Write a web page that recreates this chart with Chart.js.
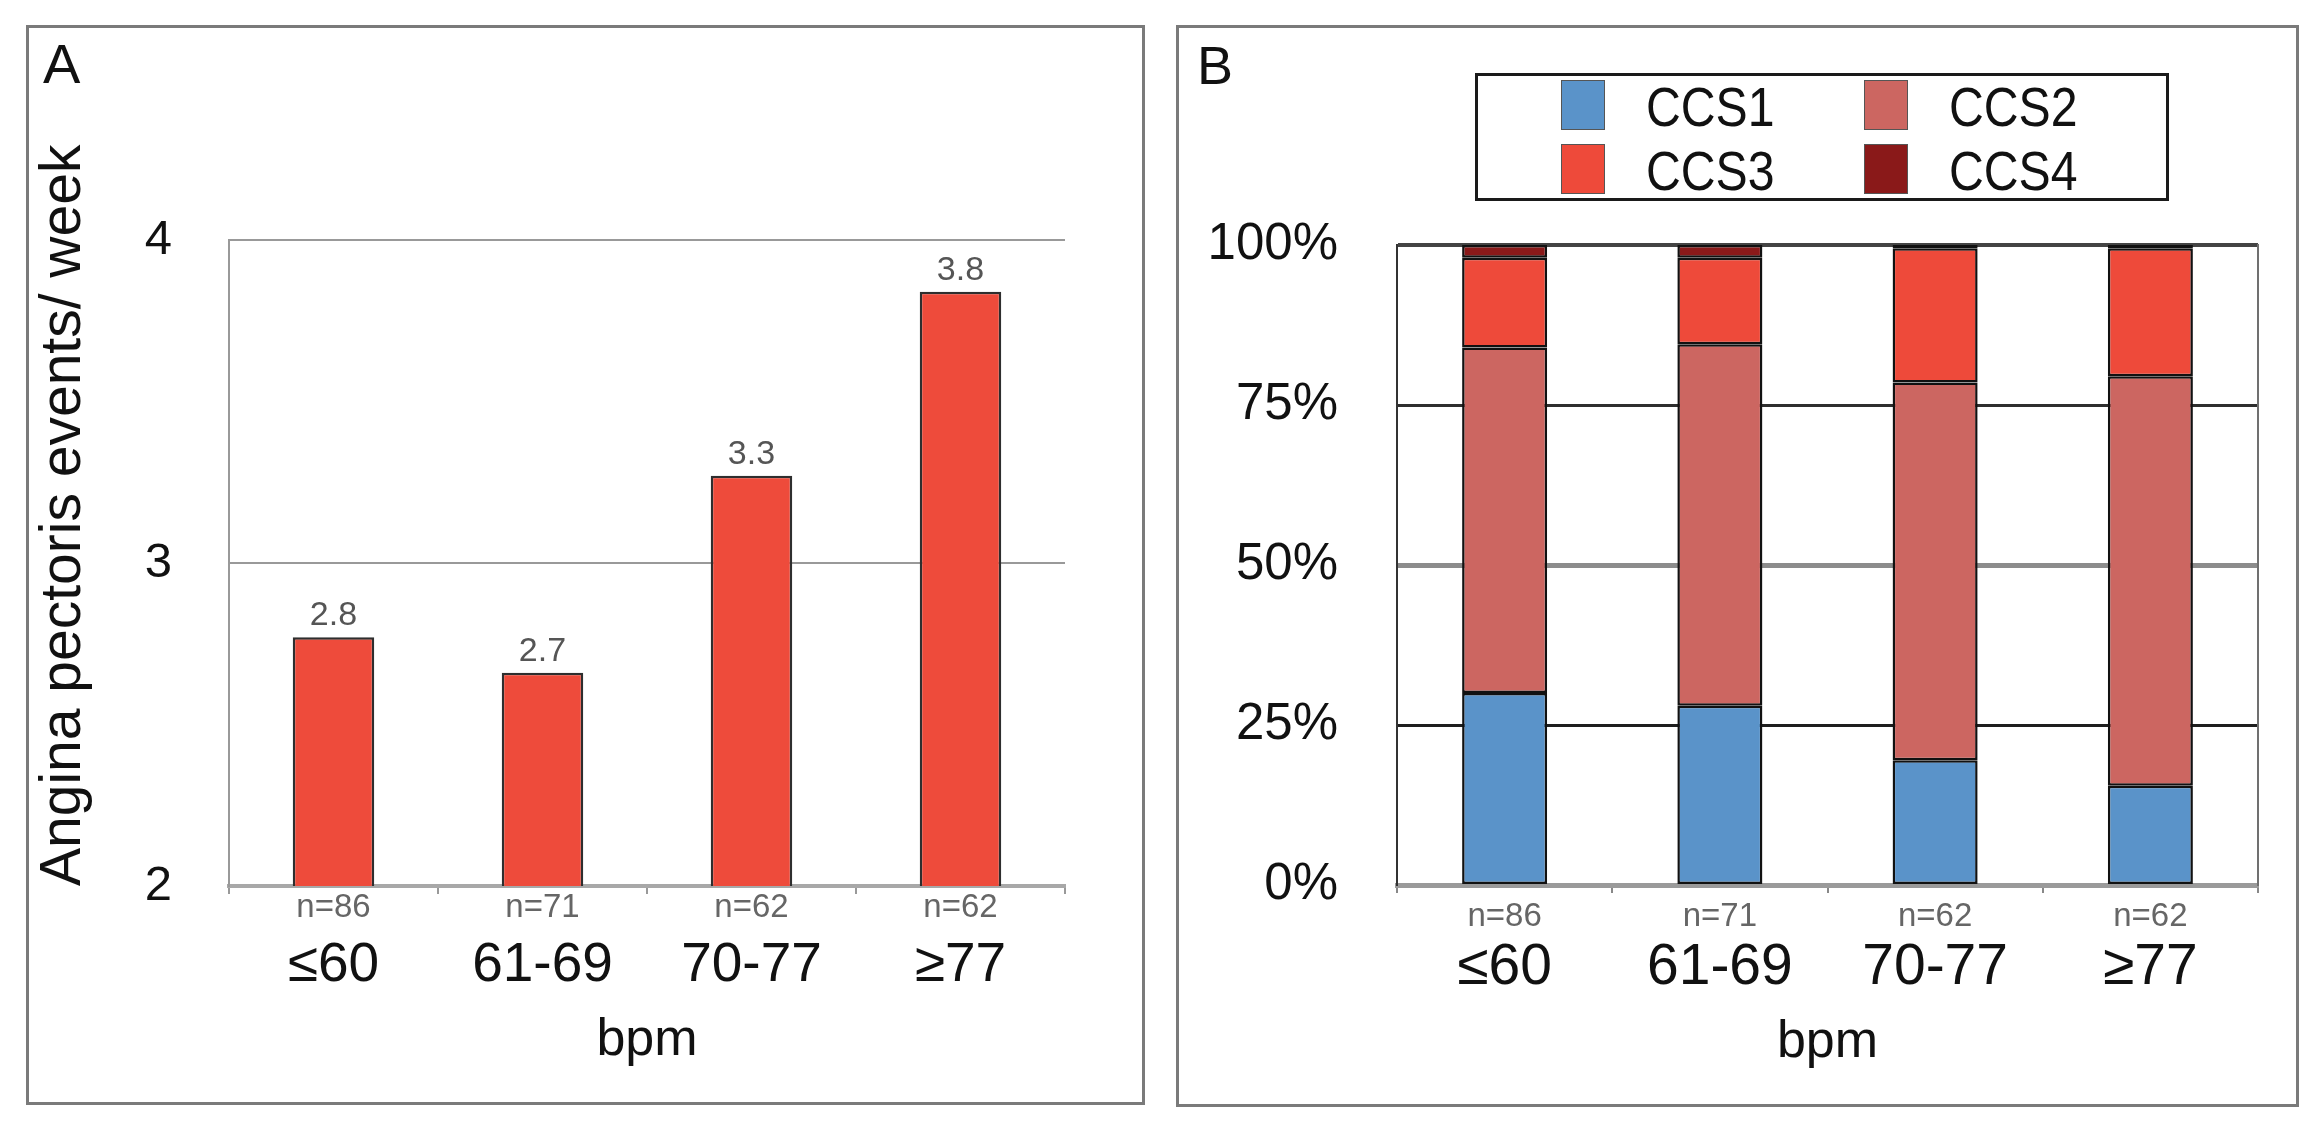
<!DOCTYPE html>
<html>

<head>
    <title>Angina pectoris events by heart rate</title>
    <script src="https://cdn.jsdelivr.net/npm/chart.js"></script>
    <style>
        body {
            margin: 0;
            width: 2324px;
            height: 1128px;
            position: relative;
            overflow: hidden;
            background: #fff;
            font-family: 'Liberation Sans', Arial, sans-serif;
            color: #111;
        }

        .panel {
            position: absolute;
            box-sizing: border-box;
            border: 3px solid #7a7a7a;
        }

        #panelA { left: 26px; top: 25px; width: 1119px; height: 1080px; }
        #panelB { left: 1176px; top: 25px; width: 1123px; height: 1082px; }

        canvas { position: absolute; }
        #chartA { left: 30px; top: 29px; }
        #chartB { left: 1180px; top: 29px; }

        .letter {
            position: absolute;
            line-height: 1;
        }

        #letterA { left: 43px; top: 36px; font-size: 56px; }
        #letterB { left: 1197px; top: 38px; font-size: 54px; }

        /* legend for panel B, filled from the chart's datasets */
        #legendB {
            position: absolute;
            left: 1475px;
            top: 73px;
            width: 694px;
            height: 128px;
            box-sizing: border-box;
            border: 3px solid #1a1a1a;
            background: #fff;
        }

        #legendB .swatch {
            position: absolute;
            width: 44px;
            height: 50px;
            box-sizing: border-box;
            border: 1px solid #555;
        }

        #legendB .ltext {
            position: absolute;
            font-size: 56px;
            line-height: 56px;
            transform: scaleX(0.86);
            transform-origin: left center;
            white-space: nowrap;
        }
    </style>
</head>

<body>
    <div class="panel" id="panelA"></div>
    <div class="panel" id="panelB"></div>

    <canvas id="chartA" width="1111" height="1072"></canvas>
    <canvas id="chartB" width="1115" height="1074"></canvas>

    <div class="letter" id="letterA">A</div>
    <div class="letter" id="letterB">B</div>
    <div id="legendB"></div>

    <script>
        // data
        const categories = ['≤60', '61-69', '70-77', '≥77'];
        const nLabels = ['n=86', 'n=71', 'n=62', 'n=62'];
        const anginaEvents = [2.77, 2.66, 3.27, 3.84];

        const ccsNames = ['CCS1', 'CCS2', 'CCS3', 'CCS4'];
        const ccs1 = [30, 28, 19.5, 15.5];
        const ccs2 = [54, 56.5, 59, 64];
        const ccs3 = [14, 13.5, 21, 20];
        const ccs4 = [2, 2, 0.5, 0.5];

        const ccsColors = ['#5A93C9', '#CC6661', '#EE4A3A', '#8A1919'];

        Chart.defaults.font.family = "'Liberation Sans', Arial, sans-serif";
        Chart.defaults.color = '#111';

        // force axis sizes so the plot areas land where the figure has them
        function fixHeight(h) {
            return function (scale) {
                scale.height = h;
                scale.paddingLeft = scale.paddingRight = 0;
                scale.paddingTop = scale.paddingBottom = 0;
            };
        }

        function fixWidth(w) {
            return function (scale) {
                scale.width = w;
                scale.paddingLeft = scale.paddingRight = 0;
                scale.paddingTop = scale.paddingBottom = 0;
            };
        }

        // numbers above the bars in panel A
        const valueLabels = {
            id: 'valueLabels',
            afterDatasetsDraw(chart) {
                const ctx = chart.ctx;
                const meta = chart.getDatasetMeta(0);
                ctx.save();
                ctx.font = "34px 'Liberation Sans', Arial, sans-serif";
                ctx.fillStyle = '#555';
                ctx.textAlign = 'center';
                ctx.textBaseline = 'alphabetic';
                meta.data.forEach(function (bar, i) {
                    ctx.fillText(anginaEvents[i].toFixed(1), bar.x, bar.y - 12);
                });
                ctx.restore();
            }
        };

        // Panel A
        const chartA = new Chart(document.getElementById('chartA'), {
            type: 'bar',
            data: {
                labels: categories,
                datasets: [{
                    label: 'Angina pectoris events/ week',
                    data: anginaEvents,
                    backgroundColor: '#EE4B3B',
                    borderColor: '#2e2e2e',
                    borderWidth: 2.5,
                    borderSkipped: false,
                    barPercentage: 0.39,
                    categoryPercentage: 1
                }]
            },
            options: {
                responsive: false,
                animation: false,
                layout: { padding: { left: 0, top: 211, right: 76, bottom: 0 } },
                plugins: {
                    legend: { display: false },
                    tooltip: { enabled: false }
                },
                scales: {
                    x: {
                        position: 'bottom',
                        weight: 1,
                        offset: true,
                        grid: { offset: true, drawOnChartArea: false, tickLength: 8, color: '#999', lineWidth: 2 },
                        border: { color: '#a8a8a8', width: 4 },
                        ticks: {
                            callback: function (value, index) { return nLabels[index]; },
                            font: { size: 33 },
                            color: '#666',
                            padding: -6,
                            maxRotation: 0,
                            autoSkip: false
                        },
                        afterFit: fixHeight(35)
                    },
                    xCat: {
                        type: 'category',
                        position: 'bottom',
                        weight: 2,
                        offset: true,
                        labels: categories,
                        grid: { display: false },
                        border: { display: false },
                        ticks: { font: { size: 55 }, color: '#111', padding: 4, maxRotation: 0, autoSkip: false },
                        title: { display: true, text: 'bpm', font: { size: 52 }, color: '#111', padding: { top: 0, bottom: 29 } },
                        afterFit: fixHeight(180)
                    },
                    y: {
                        min: 2,
                        max: 4,
                        ticks: { stepSize: 1, font: { size: 49 }, color: '#111', padding: 57 },
                        grid: { color: '#999', lineWidth: 2, drawTicks: false },
                        border: { color: '#999', width: 2 },
                        title: {
                            display: true,
                            text: 'Angina pectoris events/ week',
                            align: 'start',
                            font: { size: 57 },
                            color: '#111',
                            padding: { top: 0, bottom: 0 }
                        },
                        afterFit: fixWidth(199)
                    }
                }
            },
            plugins: [valueLabels]
        });

        // Panel B
        const gridColorB = { 0: '#999', 25: '#1e1e1e', 50: '#8c8c8c', 75: '#2e2e2e', 100: '#444' };
        const gridWidthB = { 0: 2, 25: 3, 50: 5, 75: 3, 100: 4 };

        const ccsSeries = [ccs1, ccs2, ccs3, ccs4];

        const chartB = new Chart(document.getElementById('chartB'), {
            type: 'bar',
            data: {
                labels: categories,
                datasets: ccsSeries.map(function (values, i) {
                    return {
                        label: ccsNames[i],
                        data: values,
                        backgroundColor: ccsColors[i],
                        borderColor: '#111',
                        borderWidth: 2.5,
                        borderSkipped: false,
                        barPercentage: 0.395,
                        categoryPercentage: 1
                    };
                })
            },
            options: {
                responsive: false,
                animation: false,
                layout: { padding: { left: 0, top: 216, right: 37, bottom: 0 } },
                plugins: {
                    legend: { display: false },
                    tooltip: { enabled: false }
                },
                scales: {
                    x: {
                        position: 'bottom',
                        weight: 1,
                        stacked: true,
                        offset: true,
                        grid: { offset: true, drawOnChartArea: false, tickLength: 8, color: '#888', lineWidth: 2 },
                        border: { color: '#9a9a9a', width: 5 },
                        ticks: {
                            callback: function (value, index) { return nLabels[index]; },
                            font: { size: 33 },
                            color: '#666',
                            padding: 4,
                            maxRotation: 0,
                            autoSkip: false
                        },
                        afterFit: fixHeight(42)
                    },
                    xCat: {
                        type: 'category',
                        position: 'bottom',
                        weight: 2,
                        offset: true,
                        labels: categories,
                        grid: { display: false },
                        border: { display: false },
                        ticks: { font: { size: 57 }, color: '#111', padding: -1, maxRotation: 0, autoSkip: false },
                        title: { display: true, text: 'bpm', font: { size: 52 }, color: '#111', padding: { top: 0, bottom: 29 } },
                        afterFit: fixHeight(176)
                    },
                    y: {
                        stacked: true,
                        min: 0,
                        max: 100,
                        ticks: {
                            stepSize: 25,
                            callback: function (v) { return v + '%'; },
                            font: { size: 51 },
                            color: '#111',
                            padding: 59
                        },
                        grid: {
                            drawTicks: false,
                            color: function (c) { return gridColorB[c.tick.value] || '#444'; },
                            lineWidth: function (c) { return gridWidthB[c.tick.value] || 3; }
                        },
                        border: { color: '#333', width: 2 },
                        afterFit: fixWidth(217)
                    },
                    y2: {
                        position: 'right',
                        grid: { display: false },
                        ticks: { display: false },
                        border: { color: '#707070', width: 2 },
                        afterFit: fixWidth(0)
                    }
                }
            }
        });

        // HTML legend built from panel B datasets (2 x 2 grid in a framed box)
        const legendBox = document.getElementById('legendB');
        chartB.data.datasets.forEach(function (ds, i) {
            const col = i % 2;
            const row = Math.floor(i / 2);
            const sw = document.createElement('span');
            sw.className = 'swatch';
            sw.style.background = ds.backgroundColor;
            sw.style.left = (83 + col * 303) + 'px';
            sw.style.top = (4 + row * 64) + 'px';
            legendBox.appendChild(sw);

            const tx = document.createElement('span');
            tx.className = 'ltext';
            tx.textContent = ds.label;
            tx.style.left = (168 + col * 303) + 'px';
            tx.style.top = (3 + row * 64) + 'px';
            legendBox.appendChild(tx);
        });
    </script>
</body>

</html>
